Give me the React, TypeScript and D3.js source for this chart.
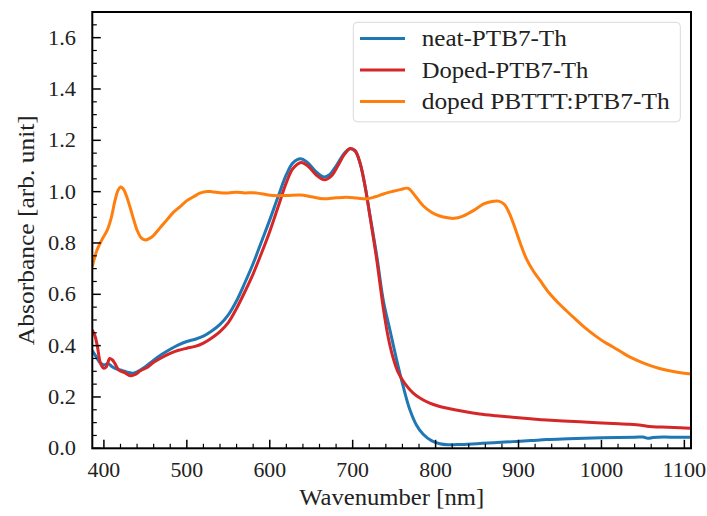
import React from 'react';
import * as d3 from 'd3';

const W = 707;
const H = 516;
const M = { left: 92.3, right: 16, top: 12, bottom: 67.7 };

const seriesNames = ['neat-PTB7-Th', 'Doped-PTB7-Th', 'doped PBTTT:PTB7-Th'];
const seriesColors = ['#1f77b4', '#d62728', '#ff7f0e'];
const legendTextWidths = [145, 166.7, 248];

const neatX = [386,390,395,400,405,410,415,420,428,435,440,450,460,470,480,490,500,510,520,530,540,550,560,570,580,590,600,610,620,628,637,645,655,665,672,680,690,697,703,709,715,721,729,737,745,753,761,769,777,785,795,805,815,830,850,870,893,915,934,960,990,1020,1040,1050,1056,1062,1075,1090,1108];
const neatY = [0.38,0.36,0.335,0.325,0.33,0.318,0.31,0.305,0.297,0.292,0.298,0.318,0.343,0.366,0.386,0.403,0.416,0.425,0.437,0.457,0.483,0.52,0.575,0.645,0.72,0.805,0.89,0.98,1.066,1.112,1.128,1.115,1.08,1.057,1.066,1.10,1.15,1.167,1.157,1.11,1.02,0.905,0.75,0.575,0.46,0.345,0.24,0.15,0.09,0.055,0.03,0.018,0.014,0.015,0.018,0.022,0.026,0.03,0.034,0.037,0.04,0.042,0.043,0.044,0.039,0.042,0.044,0.043,0.043];

const dopedX = [386,389,392,396,400,403,407,410,413,418,425,432,438,444,452,460,470,480,490,500,510,520,530,540,550,560,570,580,590,600,610,620,628,638,646,656,666,674,682,690,697,703,709,715,721,729,737,743,749,755,763,773,783,793,803,813,833,853,873,893,914,934,954,974,994,1014,1034,1048,1055,1062,1080,1095,1108];
const dopedY = [0.46,0.44,0.40,0.33,0.312,0.318,0.35,0.345,0.332,0.305,0.295,0.283,0.288,0.302,0.315,0.335,0.354,0.37,0.382,0.39,0.397,0.41,0.43,0.455,0.49,0.545,0.61,0.68,0.76,0.845,0.94,1.035,1.09,1.114,1.10,1.065,1.046,1.06,1.10,1.145,1.168,1.16,1.11,1.02,0.90,0.735,0.545,0.43,0.35,0.295,0.252,0.215,0.192,0.176,0.165,0.157,0.144,0.134,0.127,0.121,0.115,0.11,0.106,0.103,0.1,0.097,0.094,0.09,0.086,0.084,0.082,0.08,0.078];

const blendX = [386,392,398,404,409,413,417,420,423,427,431,436,440,445,450,455,460,468,476,484,492,500,508,515,522,530,540,550,560,570,580,590,604,620,637,650,665,680,693,705,717,727,737,747,757,767,775,785,795,805,815,822,833,846,858,868,876,883,889,895,902,910,918,926,937,948,958,968,980,994,1004,1014,1024,1034,1050,1070,1090,1108];
const blendY = [0.71,0.775,0.815,0.85,0.9,0.96,1.005,1.018,1.012,0.985,0.945,0.89,0.85,0.82,0.812,0.818,0.83,0.86,0.89,0.92,0.942,0.965,0.98,0.993,1.0,1.0,0.996,0.995,0.998,0.995,0.996,0.992,0.985,0.985,0.987,0.98,0.972,0.976,0.978,0.975,0.972,0.98,0.991,1.0,1.008,1.013,0.985,0.945,0.92,0.905,0.898,0.896,0.905,0.927,0.952,0.962,0.963,0.95,0.915,0.865,0.8,0.735,0.69,0.654,0.605,0.566,0.535,0.505,0.47,0.435,0.413,0.395,0.375,0.356,0.333,0.311,0.297,0.289];

const xMajor = [400, 500, 600, 700, 800, 900, 1000, 1100];
const yMajor = [0.0, 0.2, 0.4, 0.6, 0.8, 1.0, 1.2, 1.4, 1.6];

const xLabel = 'Wavenumber [nm]';
const yLabel = 'Absorbance [arb. unit]';

const FONT = "'Liberation Serif', 'Times New Roman', serif";

export default function App() {
  const x = d3.scaleLinear().domain([386, 1108]).range([M.left, W - M.right]);
  const y = d3.scaleLinear().domain([0, 1.7]).range([H - M.bottom, M.top]);
  const line = d3
    .line<[number, number]>()
    .x((d) => x(d[0]))
    .y((d) => y(d[1]))
    .curve(d3.curveCatmullRom.alpha(0.5));

  const series = [
    neatX.map((v, i) => [v, neatY[i]] as [number, number]),
    dopedX.map((v, i) => [v, dopedY[i]] as [number, number]),
    blendX.map((v, i) => [v, blendY[i]] as [number, number]),
  ];

  const xMinor = d3.range(400, 1101, 20).filter((v) => v % 100 !== 0);
  const yMinor = d3.range(0, 1.7001, 0.05).filter((v) => Math.abs(v * 5 - Math.round(v * 5)) > 1e-6);

  const x0 = M.left;
  const x1 = W - M.right;
  const y0 = H - M.bottom;
  const y1 = M.top;

  const legX = 353.3;
  const legY = 22.3;
  const legW = 327;
  const legH = 99.5;
  const rowY = [38.5, 70, 101.5];

  const tickFs = 21;
  const labFs = 23;

  return (
    <svg width={W} height={H} style={{ position: 'absolute', left: 0, top: 0, background: '#fff' }} fontFamily={FONT}>
      <defs>
        <clipPath id="plot">
          <rect x={x0} y={y1} width={x1 - x0} height={y0 - y1} />
        </clipPath>
      </defs>
      <rect x={0} y={0} width={W} height={H} fill="#fff" />
      <g clipPath="url(#plot)">
        {series.map((s, i) => (
          <path key={i} d={line(s) || ''} fill="none" stroke={seriesColors[i]} strokeWidth={3} strokeLinejoin="round" strokeLinecap="round" />
        ))}
      </g>
      {xMajor.map((v) => (
        <g key={'xm' + v}>
          <line x1={x(v)} x2={x(v)} y1={y0} y2={y0 - 8.5} stroke="#000" strokeWidth={1.5} />
          <text x={x(v)} y={477} textAnchor="middle" fontSize={tickFs} fill="#222" textLength={String(v).length * 10.9} lengthAdjust="spacingAndGlyphs">{v}</text>
        </g>
      ))}
      {xMinor.map((v) => (
        <line key={'xn' + v} x1={x(v)} x2={x(v)} y1={y0} y2={y0 - 4.5} stroke="#000" strokeWidth={1.2} />
      ))}
      {yMajor.map((v) => (
        <g key={'ym' + v}>
          <line x1={x0} x2={x0 + 8.5} y1={y(v)} y2={y(v)} stroke="#000" strokeWidth={1.5} />
          <text x={76} y={y(v)} dy="0.34em" textAnchor="end" fontSize={tickFs} fill="#222" textLength={28} lengthAdjust="spacingAndGlyphs">{v.toFixed(1)}</text>
        </g>
      ))}
      {yMinor.map((v) => (
        <line key={'yn' + v.toFixed(2)} x1={x0} x2={x0 + 4.5} y1={y(v)} y2={y(v)} stroke="#000" strokeWidth={1.2} />
      ))}
      <rect x={x0} y={y1} width={x1 - x0} height={y0 - y1} fill="none" stroke="#000" strokeWidth={2} />
      <text x={(x0 + x1) / 2} y={505} textAnchor="middle" fontSize={labFs} fill="#222" textLength={185} lengthAdjust="spacingAndGlyphs">{xLabel}</text>
      <text transform={`translate(26,${(y0 + y1) / 2}) rotate(-90)`} textAnchor="middle" dy="0.34em" fontSize={labFs} fill="#222" textLength={230} lengthAdjust="spacingAndGlyphs">{yLabel}</text>
      <rect x={legX} y={legY} width={legW} height={legH} rx={4} fill="#fff" fillOpacity={0.8} stroke="#d9d9d9" strokeWidth={1} />
      {seriesNames.map((n, i) => (
        <g key={n}>
          <line x1={360} x2={405} y1={rowY[i]} y2={rowY[i]} stroke={seriesColors[i]} strokeWidth={3} />
          <text x={421.7} y={rowY[i]} dy="0.34em" fontSize={labFs} fill="#222" textLength={legendTextWidths[i]} lengthAdjust="spacingAndGlyphs">{n}</text>
        </g>
      ))}
    </svg>
  );
}
